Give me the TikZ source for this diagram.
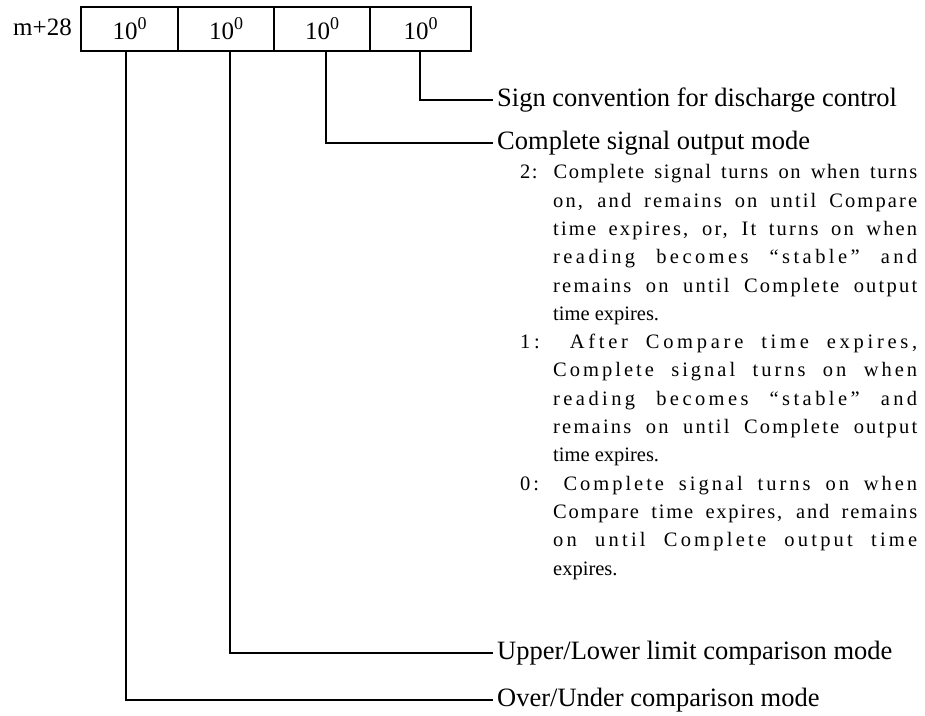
\documentclass[tikz,border=0pt]{standalone}
\usepackage{fontspec}
\setmainfont{Liberation Serif}
\usepackage{xstring}
\newlength\natw
\newcommand\bodysize{\fontsize{20.5}{24}\selectfont}
\newcommand\spreadline[2]{%
  \settowidth{\natw}{#2}%
  \StrLen{#2}[\nch]%
  \pgfmathsetmacro\lsp{max(0,(#1-\natw)/\nch/20.5*100*0.8)}%
  \addfontfeature{LetterSpace=\lsp}%
  \makebox[#1pt][s]{#2}}
\newcommand\tenzero{10\raisebox{10pt}{\fontsize{18}{18}\selectfont 0}}
\tikzset{
  cell/.style={draw, line width=1.6pt, inner sep=0pt, minimum height=44pt,
    text height=21pt, text depth=0pt, font=\fontsize{25}{25}\selectfont},
  lab/.style={anchor=west, inner xsep=4pt, inner ysep=0pt, text height=18.5pt,
    text depth=5.3pt, font=\fontsize{26.5}{30}\selectfont},
  body/.style={anchor=base west, inner sep=0pt, font=\bodysize},
  conn/.style={line width=1.6pt}
}
\begin{document}
\begin{tikzpicture}[x=1pt, y=-1pt]
\useasboundingbox (0,0) rectangle (925,715);
% register label
\node[anchor=base west, inner sep=0pt, font=\fontsize{25}{25}\selectfont] (reg) at (13,35) {m+28};
% cells
\node[cell, minimum width=97pt] (c1) at (129.5,29) {\tenzero};
\node[cell, minimum width=96pt] (c2) at (226,29) {\tenzero};
\node[cell, minimum width=96pt] (c3) at (322,29) {\tenzero};
\node[cell, minimum width=101pt] (c4) at (420.5,29) {\tenzero};
% labels
\node[lab] (s1) at (493,100) {Sign convention for discharge control};
\node[lab] (s2) at (493,143) {Complete signal output mode};
\node[lab] (s3) at (493,653) {Upper/Lower limit comparison mode};
\node[lab] (s4) at (493,700) {Over/Under comparison mode};
% connectors
\draw[conn] ([xshift=-0.5pt]c4.south) |- (s1.west);
\draw[conn] ([xshift=4pt]c3.south) |- (s2.west);
\draw[conn] ([xshift=4pt]c2.south) |- (s3.west);
\draw[conn] ([xshift=-3.5pt]c1.south) |- (s4.west);
% body text
\node[body] (b0)  at (520,178.8) {\spreadline{397}{2: Complete signal turns on when turns}};
\node[body] (b1)  at (553,207.1) {\spreadline{364}{on, and remains on until Compare}};
\node[body] (b2)  at (553,235.4) {\spreadline{364}{time expires, or, It turns on when}};
\node[body] (b3)  at (553,263.7) {\spreadline{364}{reading becomes “stable” and}};
\node[body] (b4)  at (553,292.0) {\spreadline{364}{remains on until Complete output}};
\node[body] (b5)  at (553,320.3) {time expires.};
\node[body] (b6)  at (520,348.6) {\spreadline{397}{1: After Compare time expires,}};
\node[body] (b7)  at (553,376.9) {\spreadline{364}{Complete signal turns on when}};
\node[body] (b8)  at (553,405.2) {\spreadline{364}{reading becomes “stable” and}};
\node[body] (b9)  at (553,433.5) {\spreadline{364}{remains on until Complete output}};
\node[body] (b10) at (553,461.8) {time expires.};
\node[body] (b11) at (520,490.1) {\spreadline{397}{0: Complete signal turns on when}};
\node[body] (b12) at (553,518.4) {\spreadline{364}{Compare time expires, and remains}};
\node[body] (b13) at (553,546.7) {\spreadline{364}{on until Complete output time}};
\node[body] (b14) at (553,575.0) {expires.};
\end{tikzpicture}
\end{document}
